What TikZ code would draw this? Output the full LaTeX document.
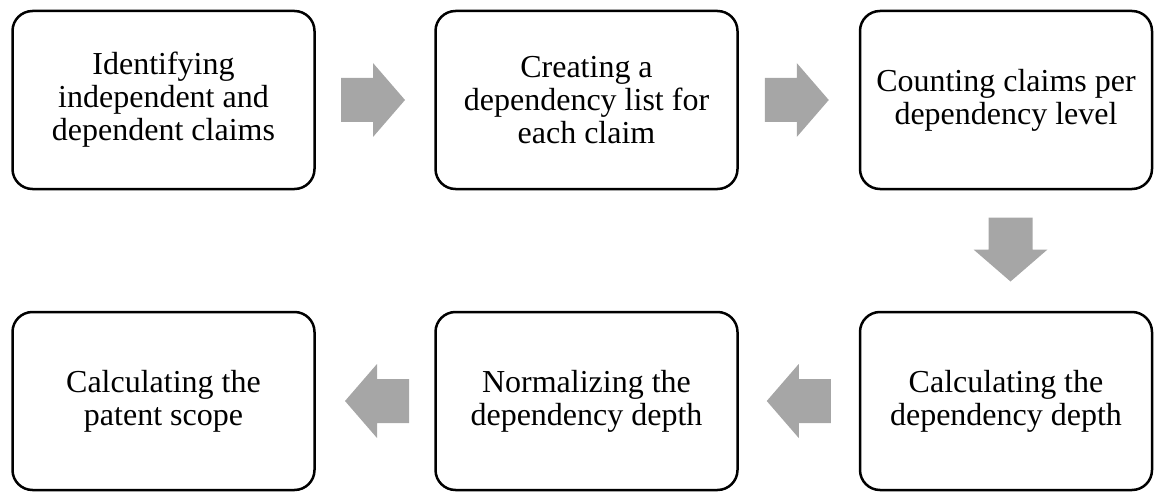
\documentclass[tikz,border=0pt]{standalone}
\usepackage{fontspec}
\setmainfont{Liberation Serif}
\usetikzlibrary{calc}
\definecolor{arrowgray}{RGB}{166,166,166}
\tikzset{
  x=1pt, y=1pt,
  stepbox/.style={draw=black, line width=2.5pt, rounded corners=20pt,
    minimum height=178pt, inner sep=0pt, align=center,
    font=\fontsize{32}{33}\selectfont,
    % taller first line, so the text sits a little below the middle
    execute at begin node={\rule{0pt}{35pt}}},
  wide/.style={stepbox, minimum width=302pt},
  narrow/.style={stepbox, minimum width=292pt},
  blockarrow/.pic={
    \fill[arrowgray] (-32,-22) -- (0,-22) -- (0,-37) -- (32,0)
      -- (0,37) -- (0,22) -- (-32,22) -- cycle;
  }
}
\begin{document}
\begin{tikzpicture}
  \useasboundingbox (0,0) rectangle (1154,-492);
  % top row
  \node[wide]   (s1) at (163.5,-100) {Identifying\\independent and\\dependent claims};
  \node[wide]   (s2) at (586.5,-100) {Creating a\\dependency list for\\each claim};
  \node[narrow] (s3) at (1006,-100)  {Counting claims per\\dependency level};
  % bottom row
  \node[narrow] (s4) at (1006,-401)  {Calculating the\\dependency depth};
  \node[wide]   (s5) at (586.5,-401) {Normalizing the\\dependency depth};
  \node[wide]   (s6) at (163.5,-401) {Calculating the\\patent scope};
  % block arrows between the steps
  \pic at ($(s1.east)!0.5!(s2.west)+(-2,0)$) {blockarrow};
  \pic at ($(s2.east)!0.5!(s3.west)+(-2,0)$) {blockarrow};
  \pic[rotate=-90] at ($(s3.south)!0.5!(s4.north)+(4.5,1)$) {blockarrow};
  \pic[rotate=180] at ($(s4.west)!0.5!(s5.east)+(0,0)$) {blockarrow};
  \pic[rotate=180] at ($(s5.west)!0.5!(s6.east)+(2,0)$) {blockarrow};
\end{tikzpicture}
\end{document}
